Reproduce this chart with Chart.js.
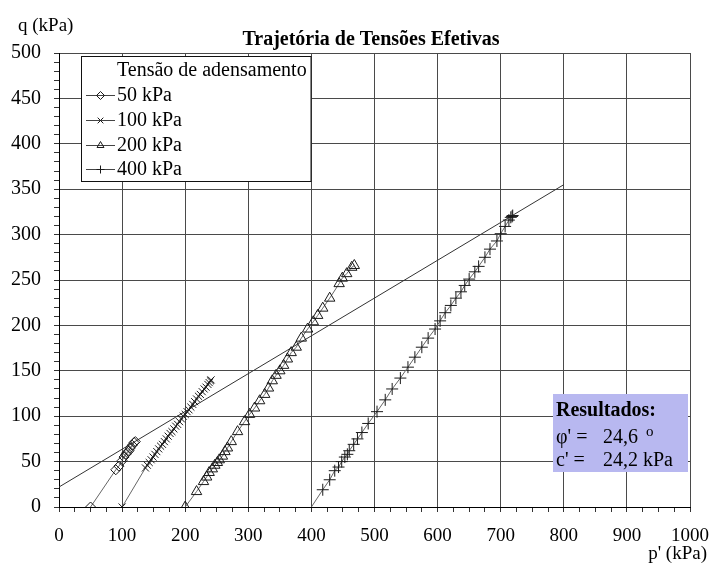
<!DOCTYPE html>
<html>
<head>
<meta charset="utf-8">
<script src="https://cdn.jsdelivr.net/npm/chart.js@4.4.0/dist/chart.umd.min.js"></script>
<style>
  html, body { margin: 0; padding: 0; background: #fff; }
  #wrap { width: 715px; height: 573px; }
</style>
</head>
<body>
<div id="wrap"><canvas id="pathChart" width="715" height="573"></canvas></div>
<script>
// effective stress paths, p' and q in kPa
var p50 = [50, 90, 95, 100, 103, 106, 108, 111, 113, 116, 119, 121];
var q50 = [0, 41, 45, 51, 55, 58, 60, 62, 65, 68, 71, 72];

var p100 = [100, 137, 140, 143, 146, 149, 152, 155, 158, 161, 164, 167, 170, 173, 176, 179, 182, 185, 188, 191,
            194, 197, 200, 203, 206, 209, 212, 215, 218, 221, 224, 227, 230, 233, 236, 238, 240, 241];
var q100 = [0, 43, 46, 49, 52, 55, 58, 61, 64, 67, 69, 72, 75, 78, 81, 83, 86, 89, 91, 94,
            97, 100, 102, 105, 107, 110, 113, 116, 119, 122, 124, 127, 130, 132, 135, 137, 139, 140];

var p200 = [200, 218, 229, 234, 238, 243, 247, 251, 254, 259, 263, 267, 273, 283, 294, 302, 310, 318, 326, 332,
            338, 344, 350, 356, 362, 368, 376, 384, 394, 403, 410, 418, 429, 444, 449, 456, 464, 468];
var q200 = [0, 17, 28, 33, 38, 42, 46, 49, 52, 56, 61, 65, 72, 83, 94, 102, 109, 117, 124, 131,
            139, 145, 150, 156, 163, 170, 176, 186, 196, 204, 211, 219, 230, 246, 252, 257, 264, 266];

var p400 = [400, 418, 429, 437, 443, 448, 453, 457, 460, 467, 473, 480, 490, 504, 517, 528, 541, 553, 564, 575,
            585, 596, 604, 612, 621, 629, 637, 643, 650, 659, 665, 675, 683, 694, 700, 707, 713, 716, 718, 719];
var q400 = [0, 19, 30, 40, 44, 50, 55, 58, 62, 69, 75, 82, 92, 105, 118, 130, 142, 154, 165, 176,
            186, 196, 205, 214, 222, 230, 237, 244, 251, 259, 265, 275, 284, 293, 301, 309, 316, 319, 320, 321];

// failure envelope (a = c' cos phi', tan alpha = sin phi')
var failP = [0, 800];
var failQ = [22, 355];

var seriesNames = ['50 kPa', '100 kPa', '200 kPa', '400 kPa'];
var xMajor = [0, 100, 200, 300, 400, 500, 600, 700, 800, 900, 1000];
var yMajor = [0, 50, 100, 150, 200, 250, 300, 350, 400, 450, 500];

var chartTitle = 'Trajetória de Tensões Efetivas';
var yTitle = 'q (kPa)';
var xTitle = "p' (kPa)";
var legendTitle = 'Tensão de adensamento';
var resTitle = 'Resultados:';
var phiValue = '24,6';
var cValue = '24,2 kPa';

var SERIF = '"Liberation Serif", "Times New Roman", serif';

function toPoints(ps, qs) {
  return ps.map(function(p, i) { return {x: p, y: qs[i]}; });
}

function pathSet(label, ps, qs, style, radius) {
  return {
    label: label,
    data: toPoints(ps, qs),
    showLine: true,
    borderColor: '#666',
    borderWidth: 1,
    pointStyle: style,
    pointRadius: radius,
    pointBorderColor: '#1a1a1a',
    pointBackgroundColor: 'rgba(255,255,255,0)',
    pointBorderWidth: 1
  };
}

var datasets = [
  pathSet(seriesNames[0], p50, q50, 'rectRot', 5),
  pathSet(seriesNames[1], p100, q100, 'crossRot', 5),
  pathSet(seriesNames[2], p200, q200, 'triangle', 6),
  pathSet(seriesNames[3], p400, q400, 'cross', 6),
  {
    label: 'envoltoria',
    data: toPoints(failP, failQ),
    showLine: true,
    borderColor: '#333',
    borderWidth: 1,
    pointRadius: 0
  }
];
// the 400 kPa path starts with no marker on the axis
datasets[3].pointRadius = function(ctx) { return ctx.dataIndex === 0 ? 0 : 6; };

// titles, legend box and results box
var decorPlugin = {
  id: 'decor',
  afterDraw: function(chart) {
    var ctx = chart.ctx;
    ctx.save();
    ctx.fillStyle = '#000';
    ctx.textBaseline = 'alphabetic';

    ctx.font = 'bold 20px ' + SERIF;
    ctx.textAlign = 'center';
    ctx.fillText(chartTitle, 371, 45);

    ctx.font = '19px ' + SERIF;
    ctx.textAlign = 'left';
    ctx.fillText(yTitle, 18, 31);
    ctx.textAlign = 'right';
    ctx.fillText(xTitle, 707, 559);

    // legend
    ctx.fillStyle = '#fff';
    ctx.fillRect(81.5, 56.5, 229.5, 125);
    ctx.strokeStyle = '#111';
    ctx.lineWidth = 1;
    ctx.strokeRect(81.5, 56.5, 229.5, 125);
    ctx.fillStyle = '#000';
    ctx.textAlign = 'left';
    ctx.textBaseline = 'middle';
    ctx.font = '20px ' + SERIF;
    ctx.fillText(legendTitle, 117, 71);
    var rows = [95, 120, 145, 169];
    for (var i = 0; i < 4; i++) {
      var ds = chart.data.datasets[i];
      var y = rows[i] + 0.5;
      ctx.strokeStyle = '#444';
      ctx.beginPath();
      ctx.moveTo(86, y);
      ctx.lineTo(115, y);
      ctx.stroke();
      ctx.strokeStyle = '#1a1a1a';
      ctx.fillStyle = 'rgba(255,255,255,0)';
      Chart.helpers.drawPoint(ctx, {pointStyle: ds.pointStyle, radius: 4, rotation: 0, borderWidth: 1}, 100.5, y);
      ctx.fillStyle = '#000';
      ctx.fillText(seriesNames[i], 117, rows[i] + 1);
    }

    // results
    ctx.fillStyle = '#b8b8f0';
    ctx.fillRect(553, 394, 135, 78);
    ctx.fillStyle = '#000';
    ctx.textBaseline = 'alphabetic';
    ctx.font = 'bold 20px ' + SERIF;
    ctx.fillText(resTitle, 556, 416);
    ctx.font = '20px ' + SERIF;
    ctx.fillText("φ' =", 556, 443);
    ctx.fillText(phiValue, 603, 443);
    ctx.font = '15px ' + SERIF;
    ctx.fillText('o', 646, 436);
    ctx.font = '20px ' + SERIF;
    ctx.fillText("c' =", 556, 466);
    ctx.fillText(cValue, 603, 466);
    ctx.restore();
  }
};

var chart = new Chart(document.getElementById('pathChart'), {
  type: 'scatter',
  data: { datasets: datasets },
  plugins: [decorPlugin],
  options: {
    responsive: false,
    devicePixelRatio: 1,
    animation: false,
    layout: { padding: { top: 53, right: 25, left: 0, bottom: 0 } },
    plugins: {
      legend: { display: false },
      tooltip: { enabled: false }
    },
    scales: {
      x: {
        type: 'linear',
        min: 0,
        max: 1000,
        afterFit: function(scale) {
          scale.height = 66;
          // let layout.padding decide the right edge, not the "1000" label
          scale.paddingLeft = 0;
          scale.paddingRight = 0;
        },
        border: { color: '#000', width: 1 },
        grid: {
          color: function(ctx) { return ctx.tick && xMajor.indexOf(ctx.tick.value) >= 0 ? '#4a4a4a' : 'rgba(0,0,0,0)'; },
          tickColor: '#333',
          tickLength: 5,
          lineWidth: 1
        },
        ticks: {
          stepSize: 25,
          autoSkip: false,
          maxRotation: 0,
          padding: 13,
          color: '#000',
          font: { family: SERIF, size: 19 },
          callback: function(v) { return xMajor.indexOf(v) >= 0 ? String(v) : ''; }
        }
      },
      y: {
        type: 'linear',
        min: 0,
        max: 500,
        afterFit: function(scale) { scale.width = 59; },
        border: { color: '#000', width: 1 },
        grid: {
          color: function(ctx) { return ctx.tick && yMajor.indexOf(ctx.tick.value) >= 0 ? '#4a4a4a' : 'rgba(0,0,0,0)'; },
          tickColor: '#333',
          tickLength: 5,
          lineWidth: 1
        },
        ticks: {
          stepSize: 10,
          autoSkip: false,
          padding: 13,
          color: '#000',
          font: { family: SERIF, size: 20 },
          callback: function(v) { return yMajor.indexOf(v) >= 0 ? String(v) : ''; }
        }
      }
    }
  }
});
</script>
</body>
</html>
